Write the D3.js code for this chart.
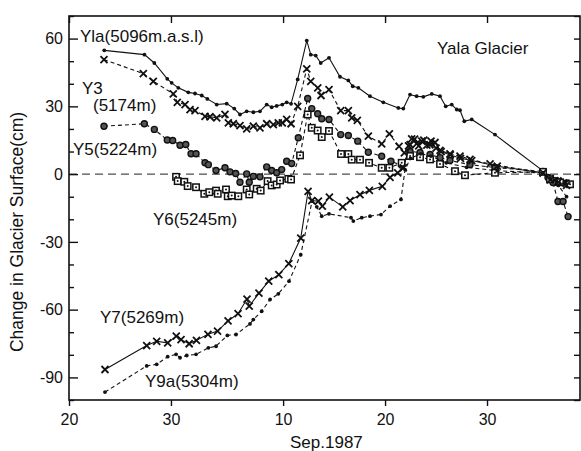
<!DOCTYPE html>
<html>
<head>
<meta charset="utf-8">
<script src="https://cdn.jsdelivr.net/npm/d3@7"></script>
<style>
  body { margin: 0; background: #fff; }
  svg { font-family: "Liberation Sans", Arial, sans-serif; }
</style>
</head>
<body>
<svg id="chart" width="581" height="451"></svg>
<script>
// days are counted from Aug 1 1987 (32 = Sep 1), values in cm
var yla = [[23.46,54.8],[27.4,52.9],[28.37,49.2],[29.64,42.2],[30.07,40.4],[30.72,38.2],[31.7,36.2],[32.36,35.7],[33.02,34.8],[33.57,33.3],[34.49,30.8],[35.47,31.2],[36.21,29.0],[36.77,26.4],[37.43,27.8],[38.08,27.4],[38.73,27.8],[39.39,30.8],[39.88,29.6],[40.37,30.2],[40.92,30.8],[41.35,31.8],[41.78,31.1],[42.43,41.9],[43.32,59.1],[43.71,52.9],[44.2,52.5],[44.69,49.2],[45.5,51.5],[46.58,43.1],[47.4,41.5],[47.83,38.9],[48.38,38.2],[49.52,34.5],[50.83,31.8],[52.3,29.3],[52.79,29.0],[53.45,35.2],[54.1,34.5],[54.75,34.2],[55.58,35.5],[56.39,34.5],[56.95,30.0],[57.54,30.8],[58.03,28.6],[58.35,28.3],[58.77,23.4],[59.5,24.2],[61.78,17.5],[66.52,1.3],[67.1,-0.8],[67.9,-2.0],[68.8,-3.0]];

var y3 = [[23.43,50.7],[27.29,44.5],[28.27,41.1],[30.23,35.5],[30.62,31.8],[31.38,30.8],[31.87,28.6],[32.36,28.1],[33.34,25.6],[33.83,25.4],[34.49,24.9],[35.3,26.4],[35.63,22.7],[36.12,22.3],[36.77,21.5],[37.43,20.0],[38.08,21.2],[38.73,20.5],[39.39,22.3],[40.04,21.9],[40.53,22.7],[40.92,22.7],[41.35,24.2],[41.78,22.3],[42.43,30.0],[43.32,46.6],[43.71,41.1],[44.4,38.2],[44.72,34.8],[45.5,37.4],[46.65,28.1],[47.4,28.1],[47.73,24.9],[48.28,23.8],[49.36,16.8],[50.67,13.4],[51.42,17.8],[52.37,12.3],[52.89,9.4],[53.3,12.5],[53.61,15.6],[54.1,13.5],[54.6,14.6],[55.1,12.8],[55.51,14.6],[56.0,11.5],[56.39,10.5],[57.37,9.0],[58.35,8.0],[59.33,6.5],[61.3,4.5],[66.5,0.5],[67.2,-2.0],[67.96,-3.0],[68.75,-4.0]];

var y5 = [[23.43,21.2],[27.39,22.3],[28.37,19.8],[29.64,15.1],[30.17,14.9],[30.89,12.8],[31.45,13.1],[31.97,9.0],[32.46,9.0],[33.34,5.0],[33.67,4.2],[34.42,1.6],[35.3,2.8],[35.79,1.0],[36.35,0.3],[36.77,-3.6],[37.43,0.1],[37.68,-3.6],[38.08,-1.0],[38.73,-1.2],[39.39,3.2],[39.88,1.6],[40.37,0.6],[40.86,2.0],[41.35,5.7],[41.84,4.7],[42.49,16.1],[43.41,33.5],[43.81,29.0],[44.39,26.7],[44.79,24.5],[45.5,24.2],[46.65,17.5],[47.4,17.1],[48.32,14.6],[49.36,9.7],[50.67,7.9],[51.58,5.7],[52.63,3.9],[53.45,10.0],[54.43,9.6],[55.41,8.7],[56.39,7.3],[57.37,6.0],[59.33,4.2],[61.78,2.9],[66.49,1.2],[66.98,-1.5],[67.47,-3.7],[67.96,-12.1],[68.46,-12.1],[68.95,-18.8]];

var y6 = [[30.5,-1.2],[30.66,-3.1],[31.31,-3.4],[31.64,-5.3],[32.46,-5.8],[33.27,-8.7],[33.76,-8.0],[34.42,-7.3],[34.59,-8.7],[35.4,-6.8],[35.57,-9.8],[35.96,-9.5],[36.61,-9.8],[37.43,-6.8],[37.68,-9.0],[38.41,-6.5],[38.8,-7.3],[39.48,-3.1],[39.88,-5.0],[40.37,-4.6],[40.7,-2.8],[41.51,-2.1],[41.78,-2.4],[42.66,8.3],[43.41,26.4],[43.81,20.5],[44.39,19.3],[44.79,16.4],[45.5,19.1],[46.68,8.9],[47.4,8.9],[47.73,6.4],[48.54,6.4],[49.43,5.0],[50.67,2.8],[51.42,2.8],[52.63,5.0],[53.45,8.0],[54.43,7.5],[55.41,6.5],[56.39,4.5],[57.86,1.3],[58.84,-0.5],[61.78,0.6],[66.49,1.0],[67.18,-2.3],[68.16,-3.6],[69.14,-4.5]];

var y7 = [[23.53,-86.5],[27.62,-75.9],[28.6,-74.0],[29.68,-74.7],[30.52,-71.7],[30.99,-73.3],[31.79,-75.1],[32.5,-73.6],[33.63,-70.9],[34.57,-69.5],[35.6,-65.0],[36.58,-61.8],[37.46,-55.3],[37.68,-58.4],[38.63,-52.7],[39.59,-47.4],[40.58,-44.5],[41.56,-39.6],[42.73,-28.3],[43.45,-7.6],[43.81,-11.7],[44.46,-12.0],[44.85,-14.2],[45.54,-10.2],[46.85,-14.5],[47.57,-11.7],[48.54,-9.1],[49.46,-7.2],[50.73,-5.4],[51.49,-1.4],[52.24,0.6],[52.79,2.8],[53.45,13.0],[53.9,15.5],[54.3,12.5],[54.8,15.0],[55.4,13.0],[55.9,14.0],[56.5,10.0],[57.4,8.5],[58.4,7.0],[59.5,6.0],[62.0,3.5],[66.5,0.5],[67.2,-2.5],[68.0,-3.5],[68.8,-5.0]];

var y9a = [[23.53,-96.5],[27.62,-84.9],[28.6,-84.2],[29.68,-80.8],[30.5,-79.8],[30.89,-81.3],[31.55,-80.3],[32.46,-79.8],[33.67,-76.9],[34.42,-76.2],[35.53,-71.4],[36.38,-71.0],[37.75,-66.3],[38.08,-64.4],[38.9,-60.7],[39.72,-55.5],[40.53,-53.0],[41.58,-47.4],[42.73,-35.7],[43.84,-12.0],[44.3,-14.5],[44.79,-18.6],[45.5,-17.6],[47.66,-19.3],[47.89,-20.8],[48.71,-19.3],[49.52,-18.6],[50.6,-17.9],[51.49,-14.2],[52.56,-11.2],[52.96,2.0],[53.5,7.0],[54.5,9.0],[55.5,8.0],[57.0,5.0],[59.0,3.0],[62.0,1.5],[66.5,0.5],[67.2,-2.0],[68.0,-5.0],[68.8,-10.0]];

var xTickDays = [20, 30, 41, 51, 61];
var yTickValues = [-100,-90,-80,-70,-60,-50,-40,-30,-20,-10,0,10,20,30,40,50,60,70];
var yLabelValues = [-90,-60,-30,0,30,60];

var series = [
	{name:"Yla(5096m.a.s.l)", data:yla, marker:"dot", dash:null, lx:80, ly:42},
	{name:"Y3", data:y3, marker:"cross", dash:"4,3", lx:82, ly:94},
	{name:"Y5(5224m)", data:y5, marker:"circle", dash:"4,3", lx:73, ly:155},
	{name:"Y6(5245m)", data:y6, marker:"square", dash:"4,3", lx:153, ly:225},
	{name:"Y7(5269m)", data:y7, marker:"cross", dash:null, lx:100, ly:323},
	{name:"Y9a(5304m)", data:y9a, marker:"dot", dash:"4,3", lx:145, ly:387}
];

function dayDate(d){ return new Date(Date.UTC(1987,7,1) + (d-1)*86400000); }

var mLeft = 69, mRight = 580, mTop = 16, mBottom = 400;
var svg = d3.select("#chart");

var x = d3.scaleUtc().domain([dayDate(20), dayDate(70.12)]).range([mLeft, mRight]);
var y = d3.scaleLinear().domain([-100, 70]).range([mBottom, mTop]);

// zero line
svg.append("line")
	.attr("x1", mLeft).attr("x2", mRight)
	.attr("y1", y(0)).attr("y2", y(0))
	.attr("stroke", "#222").attr("stroke-width", 1)
	.attr("stroke-dasharray", "8,5");

// axes
var fmt = d3.utcFormat("%-d");
svg.append("g").attr("transform", "translate(0," + mBottom + ")")
	.call(d3.axisBottom(x).tickValues(xTickDays.map(dayDate)).tickSize(6).tickPadding(8).tickFormat(fmt));
svg.append("g").attr("transform", "translate(0," + mTop + ")")
	.call(d3.axisTop(x).tickValues(xTickDays.map(dayDate)).tickSize(-7).tickFormat(""));
var yl = svg.append("g").attr("transform", "translate(" + mLeft + ",0)")
	.call(d3.axisLeft(y).tickValues(yTickValues).tickSize(-5).tickPadding(6)
		.tickFormat(function(d){ return yLabelValues.indexOf(d) >= 0 ? d : ""; }));
yl.selectAll(".tick line").attr("x2", function(d){ return yLabelValues.indexOf(d) >= 0 ? 9 : 5; });
svg.append("g").attr("transform", "translate(" + mRight + ",0)")
	.call(d3.axisRight(y).tickValues(yTickValues).tickSize(-6).tickFormat(""));

svg.selectAll(".domain").remove();
svg.selectAll(".tick line").attr("stroke", "#111").attr("stroke-width", 1.4);
svg.selectAll(".tick text").attr("fill", "#111").style("font-size", "16px")
	.style("font-family", "'Liberation Sans', Arial, sans-serif");

svg.append("rect")
	.attr("x", mLeft).attr("y", mTop)
	.attr("width", mRight - mLeft).attr("height", mBottom - mTop)
	.attr("fill", "none").attr("stroke", "#111").attr("stroke-width", 1.6);

// lines and markers
var line = d3.line().x(function(d){ return x(dayDate(d[0])); }).y(function(d){ return y(d[1]); });

series.forEach(function(s){
	svg.append("path").datum(s.data)
		.attr("d", line)
		.attr("fill", "none").attr("stroke", "#111").attr("stroke-width", 1.1)
		.attr("stroke-dasharray", s.dash);

	var g = svg.append("g").selectAll("g").data(s.data).enter().append("g")
		.attr("transform", function(d){ return "translate(" + x(dayDate(d[0])) + "," + y(d[1]) + ")"; });

	if(s.marker === "dot"){
		g.append("circle").attr("r", 1.9).attr("fill", "#111");
	}else if(s.marker === "cross"){
		g.append("path").attr("d", "M-3.5,-3.5L3.5,3.5M-3.5,3.5L3.5,-3.5")
			.attr("stroke", "#111").attr("stroke-width", 1.8);
	}else if(s.marker === "circle"){
		g.append("circle").attr("r", 3).attr("fill", "#555").attr("stroke", "#111").attr("stroke-width", 1.4);
	}else if(s.marker === "square"){
		g.append("rect").attr("x", -3.2).attr("y", -3.2).attr("width", 6.4).attr("height", 6.4)
			.attr("fill", "#fff").attr("stroke", "#111").attr("stroke-width", 1.5);
		g.append("circle").attr("r", 1).attr("fill", "#111");
	}
});

// labels
var labels = svg.append("g").style("font-size", "17px").attr("fill", "#111");
series.forEach(function(s){
	labels.append("text").attr("x", s.lx).attr("y", s.ly).text(s.name);
});
labels.append("text").attr("x", 93).attr("y", 111).text("(5174m)");
labels.append("text").attr("x", 437).attr("y", 54).text("Yala Glacier");
labels.append("text").attr("x", 290).attr("y", 448).text("Sep.1987");
labels.append("text")
	.attr("transform", "translate(23,232) rotate(-90)")
	.attr("text-anchor", "middle").style("font-size", "17.5px")
	.text("Change in Glacier Surface(cm)");
</script>
</body>
</html>
